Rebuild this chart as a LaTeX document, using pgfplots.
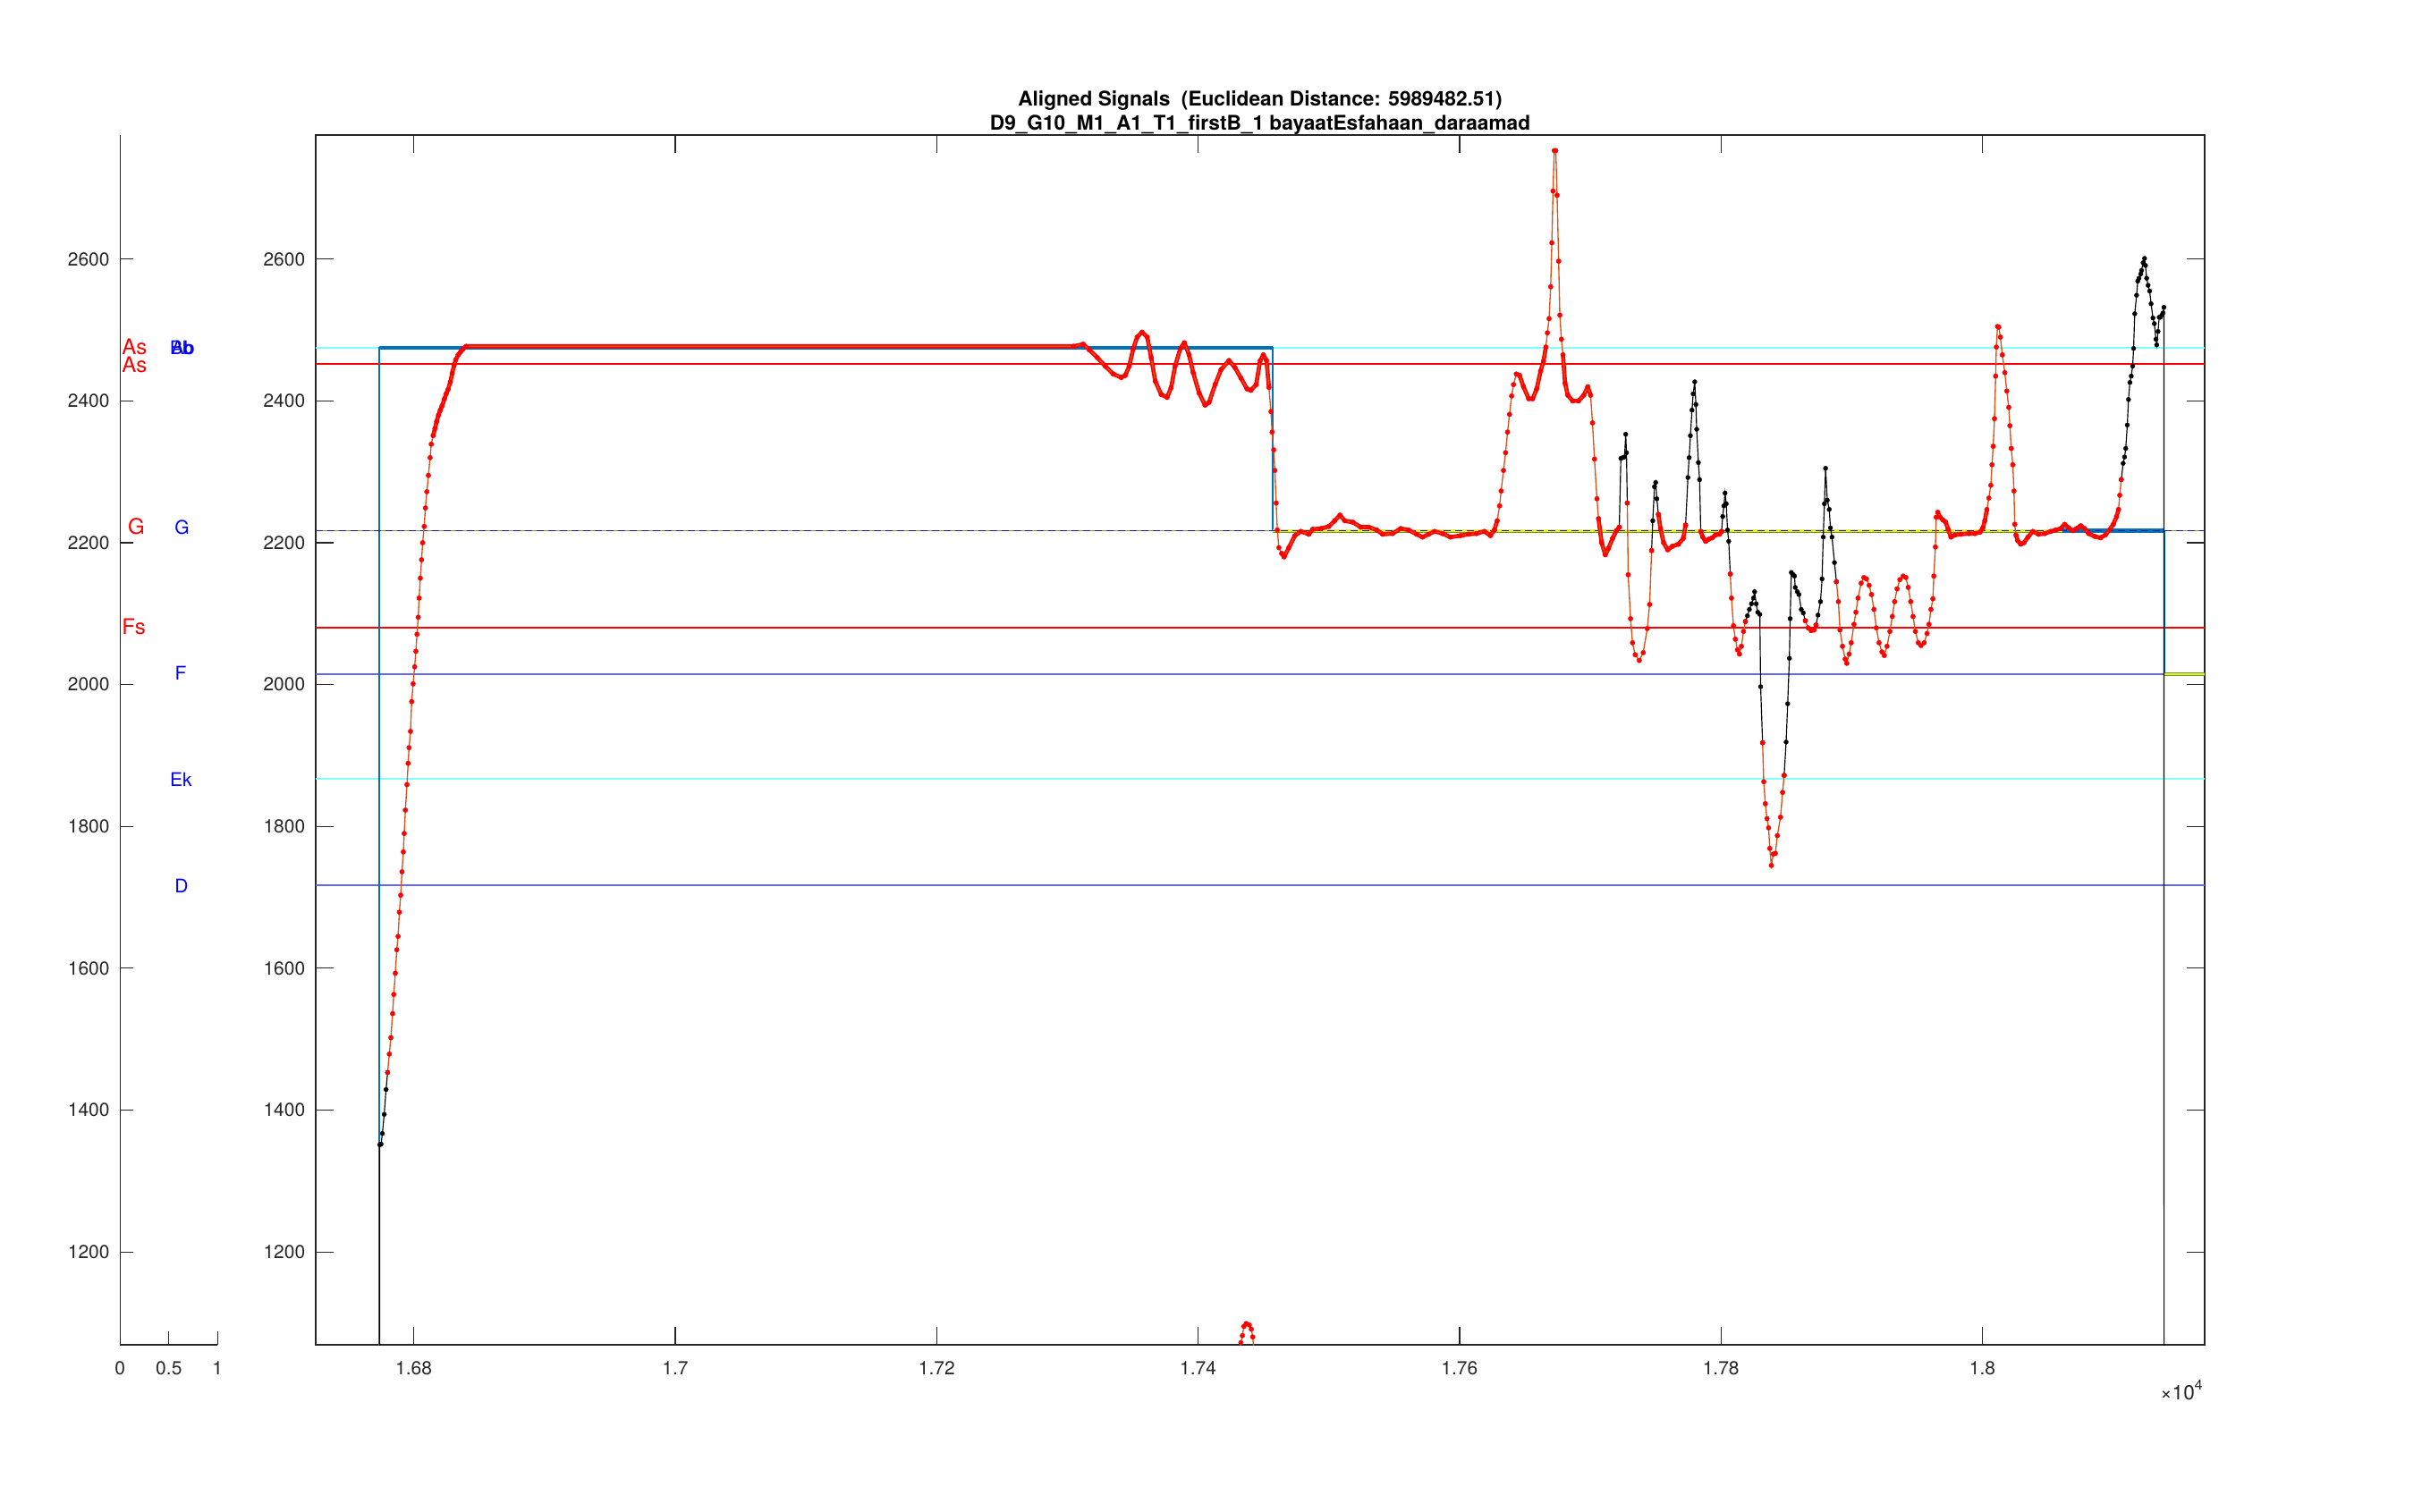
\documentclass[border=0pt]{standalone}
\usepackage{fontspec}
\setmainfont{TeX Gyre Heros}
\usepackage{pgfplots}
\usepackage{pgfplotstable}
\pgfplotsset{compat=1.18}

\definecolor{mblue}{rgb}{0,0.447,0.741}
\definecolor{morange}{rgb}{0.85,0.325,0.098}
\definecolor{mgreen}{rgb}{0.40,0.60,0.15}
\definecolor{myellow}{rgb}{0.92,0.92,0.25}
\definecolor{lcyan}{rgb}{0.5,1,1}
\definecolor{lblue}{rgb}{0.4,0.4,0.96}
\definecolor{olivetwo}{rgb}{0.55,0.55,0.25}
\definecolor{navytwo}{rgb}{0.1,0.1,0.6}
\definecolor{axgray}{rgb}{0.15,0.15,0.15}

% red pitch points: x, y, b (b = y where the dots merge into a band)
\pgfplotstableread{
x y b
16780 1453 nan
16781.3 1479 nan
16782.5 1502 nan
16783.8 1536 nan
16784.7 1563 nan
16785.9 1593 nan
16787 1626 nan
16788 1645 nan
16789 1679 nan
16790 1703 nan
16791 1736 nan
16792 1764 nan
16792.7 1790 nan
16793.6 1823 nan
16794.8 1859 nan
16795.7 1889 nan
16796.4 1911 nan
16797.5 1934 nan
16798.4 1976 nan
16799.5 2001 nan
16800.7 2025 nan
16801.6 2047 nan
16802.5 2071 nan
16803.4 2095 nan
16804.1 2122 nan
16805 2150 nan
16806 2176 nan
16806.8 2200 nan
16808 2223 nan
16808.9 2249 nan
16810 2272 nan
16811.2 2295 nan
16812.5 2320 nan
16813.4 2339 nan
16814.8 2351 2351
16816.2 2361 2361
16817.5 2371 2371
16818.9 2380 2380
16820.3 2387 2387
16821.6 2393 2393
16823.5 2403 2403
16824.8 2410 2410
16826.2 2416 2416
16828 2427 2427
16829.4 2439 2439
16830.8 2450 2450
16832.1 2458 2458
16834 2465 2465
16835.8 2469 2469
16837.6 2473 2473
16840 2477 2477
17304.6 2477 2477
17312.2 2480 2480
17316.8 2472 2472
17322.9 2461 2461
17329 2449 2449
17335.1 2438 2438
17341.2 2433 2433
17344.3 2436 2436
17347.3 2449 2449
17350.4 2474 2474
17353.4 2490 2490
17357.1 2497 2497
17361.1 2490 2490
17364.1 2461 2461
17367.2 2428 2428
17371.8 2409 2409
17376.3 2405 2405
17379.4 2419 2419
17382.4 2449 2449
17386.4 2474 2474
17389.5 2482 2482
17393.1 2465 2465
17396.2 2440 2440
17400.8 2411 2411
17405.3 2394 2394
17408.4 2398 2398
17413 2423 2423
17417.5 2444 2444
17423.6 2457 2457
17428.2 2447 2447
17432.8 2432 2432
17437.4 2417 2417
17440.4 2415 2415
17444.4 2423 2423
17447.5 2457 2457
17449.9 2465 2465
17452.3 2457 2457
17454.2 2419 2419
17455.7 2385 nan
17456.6 2356 nan
17457.8 2331 nan
17458.7 2302 nan
17459.7 2256 nan
17460.6 2218 nan
17461.8 2193 nan
17463.9 2185 2185
17465.8 2180 2180
17469.4 2193 2193
17474 2210 2210
17478.6 2216 2216
17484.7 2212 2212
17487.7 2219 2219
17493.9 2220 2220
17500 2223 2223
17504.5 2231 2231
17508.5 2239 2239
17512.2 2231 2231
17518.3 2229 2229
17524.4 2222 2222
17530.5 2222 2222
17536.6 2218 2218
17541.2 2212 2212
17548.8 2213 2213
17554.9 2220 2220
17561 2218 2218
17567.1 2212 2212
17571.7 2208 2208
17576.3 2212 2212
17580.8 2216 2216
17587 2213 2213
17593 2208 2208
17600.7 2210 2210
17606.8 2212 2212
17612.9 2213 2213
17619 2216 2216
17623.6 2210 2210
17626.6 2218 2218
17628.8 2231 2231
17630.6 2252 nan
17631.8 2273 nan
17633.6 2302 nan
17635.2 2327 nan
17636.7 2356 nan
17638.2 2381 nan
17639.8 2407 nan
17641.3 2423 nan
17643.4 2438 2438
17645.9 2436 2436
17648.9 2420 2420
17652.9 2403 2403
17655.9 2403 2403
17659 2417 2417
17662 2442 2442
17664.2 2456 2456
17666 2476 2476
17667.2 2496 nan
17668.5 2516 nan
17669.7 2561 nan
17670.6 2623 nan
17671.5 2696 nan
17672.4 2753 nan
17673.6 2753 nan
17674.6 2690 nan
17675.8 2597 nan
17676.7 2521 nan
17677.9 2487 nan
17679.1 2465 2465
17680.7 2425 2425
17682.8 2408 2408
17686.5 2400 2400
17691 2400 2400
17695 2408 2408
17698.1 2420 2420
17700.2 2408 2408
17701.7 2369 nan
17703.2 2318 nan
17705.1 2262 nan
17706.3 2234 2234
17708.7 2200 2200
17711.5 2183 2183
17713.9 2192 2192
17717 2206 2206
17720 2217 2217
17722.2 2222 2222
nan nan nan
17728.3 2256 nan
17729.0 2155 nan
17730.8 2093 nan
17732.3 2059 nan
17734.4 2042 nan
17737.5 2034 nan
17740.5 2045 nan
17743.6 2079 nan
17745.4 2113 nan
17746.9 2189 nan
nan nan nan
17752.1 2240 2240
17753.7 2220 2220
17756.1 2200 2200
17759.2 2190 2190
17762.8 2195 2195
17767.4 2198 2198
17771.1 2206 2206
17772.9 2225 2225
nan nan nan
17784.5 2216 2216
17786 2208 2208
17788.2 2202 2202
17790.6 2205 2205
17793.3 2207 2207
17795.8 2211 2211
17798.8 2212 2212
17800.4 2216 2216
nan nan nan
17807.1 2156 nan
17808 2122 nan
17809.5 2083 nan
17811 2064 nan
17812.6 2049 nan
17814.1 2043 nan
17815.6 2054 nan
17817.2 2075 nan
17818.7 2089 nan
nan nan nan
17831.8 1918 nan
17832.7 1863 nan
17833.9 1832 nan
17835.2 1811 nan
17836.4 1798 nan
17837.3 1769 nan
17838.5 1745 nan
17840 1761 nan
17841.6 1762 nan
17843.1 1787 nan
17845.5 1813 nan
17847.1 1848 nan
17848.3 1872 nan
nan nan nan
17864.5 2090 nan
17866.6 2080 nan
17869 2076 nan
17871.2 2077 nan
17872.7 2084 nan
nan nan nan
17888.3 2145 nan
17889.8 2117 nan
17891 2077 nan
17892.9 2054 nan
17895 2036 nan
17896.2 2030 nan
17898 2043 nan
17899.6 2059 nan
17901.7 2085 nan
17903.2 2102 nan
17904.8 2122 nan
17907.2 2143 nan
17909.3 2151 nan
17911.2 2149 nan
17913.3 2140 nan
17915.1 2127 nan
17917 2106 nan
17918.8 2080 nan
17920.9 2059 nan
17923.1 2046 nan
17924.9 2041 nan
17927 2054 nan
17929.2 2075 nan
17931 2096 nan
17932.8 2117 nan
17934.7 2135 nan
17936.8 2148 nan
17939.3 2153 nan
17941.4 2151 nan
17943.2 2137 nan
17945.1 2117 nan
17946.9 2096 nan
17948.7 2075 nan
17950.9 2059 nan
17953 2055 nan
17955.4 2059 nan
17957.6 2072 nan
17959.1 2085 nan
17960.6 2106 nan
17962.1 2121 nan
17962.8 2153 nan
17964 2194 nan
17964.6 2236 nan
17965.8 2243 2243
17967.6 2236 2236
17969.8 2232 2232
17971.9 2229 2229
17973.7 2219 2219
17975.9 2208 2208
17978.9 2211 2211
17983.5 2212 2212
17989.6 2213 2213
17994.2 2213 2213
17998.2 2215 2215
18000.3 2221 2221
18001.8 2231 2231
18003.4 2247 2247
18004.9 2263 nan
18006.4 2281 nan
18007.3 2310 nan
18008.2 2336 nan
18009.2 2375 nan
18010.1 2435 nan
18010.6 2476 nan
18011.5 2505 nan
18012.5 2504 nan
18013.7 2490 nan
18015.2 2465 nan
18017.1 2440 nan
18018.6 2414 nan
18020.1 2391 nan
18021 2365 nan
18022 2333 nan
18023.2 2310 nan
18024.1 2273 nan
18024.7 2226 nan
18025.6 2211 2211
18026.9 2203 2203
18029.3 2198 2198
18031.7 2200 2200
18034.8 2208 2208
18038.5 2216 2216
18043 2212 2212
18047.6 2213 2213
18052.2 2216 2216
18056.2 2218 2218
18059.8 2220 2220
18062.9 2226 2226
18065.9 2221 2221
18069 2217 2217
18072 2220 2220
18075.1 2224 2224
18078.1 2220 2220
18081.2 2213 2213
18085.8 2209 2209
18090.3 2207 2207
18094 2211 2211
18097.1 2218 2218
18100.1 2226 2226
18102.6 2237 2237
18104.1 2247 2247
18105 2267 nan
18106.2 2289 nan
}\redtab

% black pitch segments
\pgfplotstableread{
x y
16774 0
16774 1351
16775 1352
16776 1367
16777.4 1394
16778.8 1429
16780 1453
nan nan
17722.2 2222
17723.4 2319
17724.7 2320
17726.2 2321
17727.1 2353
17727.7 2327
17728.3 2256
nan nan
17746.9 2189
17747.8 2231
17749.1 2279
17750 2285
17750.9 2262
17752.1 2240
nan nan
17772.9 2225
17774.7 2292
17775.6 2320
17776.6 2351
17777.8 2387
17778.7 2410
17779.9 2427
17780.8 2395
17781.4 2360
17782.7 2313
17783.6 2289
17784.5 2216
nan nan
17800.4 2216
17801.3 2237
17802.2 2252
17803.1 2270
17804 2255
17805 2218
17805.9 2202
17807.1 2156
nan nan
17818.7 2089
17820.2 2097
17821.7 2106
17823.3 2114
17824.8 2122
17825.7 2131
17826.9 2114
17828.1 2102
17829.7 2099
17830.3 1997
17831.8 1918
nan nan
17848.3 1872
17849.8 1919
17851 1973
17852.3 2037
17852.9 2093
17853.8 2158
17855.3 2155
17856.2 2153
17856.8 2137
17858.4 2131
17859.6 2127
17861.4 2106
17862.9 2101
17864.5 2090
nan nan
17872.7 2084
17874.2 2098
17876.1 2117
17877.3 2149
17878.2 2208
17879.1 2255
17880 2305
17881.3 2260
17882.8 2247
17883.7 2221
17884.9 2208
17886.8 2172
17888.3 2145
nan nan
18106.2 2289
18107.6 2312
18108.7 2321
18109.6 2333
18110.8 2366
18111.7 2402
18112.8 2426
18113.8 2435
18114.9 2449
18115.6 2474
18116.5 2523
18117.9 2549
18118.8 2569
18119.7 2573
18121.1 2579
18121.7 2584
18122.9 2595
18124 2601
18124.7 2591
18125.6 2573
18126.7 2563
18127.9 2555
18129 2537
18130.4 2517
18131.5 2509
18132.7 2487
18133.3 2479
18134.3 2498
18135.2 2518
18136.1 2518
18137.2 2521
18138.1 2524
18138.8 2532
18139 0
}\blacktab

\begin{document}
\begin{tikzpicture}
\useasboundingbox (0,0) rectangle (812.4pt,507pt);

% ---------- small note-label axis ----------
\begin{axis}[
  at={(40.3pt,55.8pt)}, anchor=south west,
  scale only axis, width=32.7pt, height=405.9pt,
  xmin=0, xmax=1, ymin=1069, ymax=2775,
  axis x line*=bottom, axis y line*=left,
  xtick={0,0.5,1}, xticklabels={0,0.5,1},
  ytick={1200,1400,1600,1800,2000,2200,2400,2600},
  tick align=inside, major tick length=4.4pt,
  axis line style={axgray, line width=0.45pt},
  every tick/.style={axgray, line width=0.35pt},
  tick label style={font=\fontsize{6.3}{7}\selectfont, text=axgray},
  xticklabel style={yshift=-2pt},
  /pgf/number format/assume math mode=true,
  /pgf/number format/1000 sep={},
  clip=false,
]
\node[anchor=west, inner sep=0pt, text=red, font=\fontsize{7.2}{8}\selectfont] at (axis cs:0.012,2476) {As};
\node[anchor=west, inner sep=0pt, text=red, font=\fontsize{7.2}{8}\selectfont] at (axis cs:0.012,2451) {As};
\node[anchor=west, inner sep=0pt, text=red, font=\fontsize{7.2}{8}\selectfont] at (axis cs:0.075,2223) {G};
\node[anchor=west, inner sep=0pt, text=red, font=\fontsize{7.2}{8}\selectfont] at (axis cs:0.012,2081) {Fs};
\node[inner sep=0pt, text=blue, font=\fontsize{6.3}{7}\selectfont] at (axis cs:0.63,2475) {Bb};
\node[inner sep=0pt, text=blue, font=\fontsize{6.3}{7}\selectfont] at (axis cs:0.645,2475) {Ab};
\node[inner sep=0pt, text=blue, font=\fontsize{6.3}{7}\selectfont] at (axis cs:0.635,2222) {G};
\node[inner sep=0pt, text=blue, font=\fontsize{6.3}{7}\selectfont] at (axis cs:0.62,2016) {F};
\node[inner sep=0pt, text=blue, font=\fontsize{6.3}{7}\selectfont] at (axis cs:0.625,1866) {Ek};
\node[inner sep=0pt, text=blue, font=\fontsize{6.3}{7}\selectfont] at (axis cs:0.63,1716) {D};
\end{axis}

% ---------- main axis ----------
\begin{axis}[
  at={(105.9pt,55.8pt)}, anchor=south west,
  scale only axis, width=633.6pt, height=405.9pt,
  xmin=16725, xmax=18170, ymin=1069, ymax=2775,
  xtick={16800,17000,17200,17400,17600,17800,18000},
  xticklabels={1.68,1.7,1.72,1.74,1.76,1.78,1.8},
  scaled x ticks=false,
  ytick={1200,1400,1600,1800,2000,2200,2400,2600},
  tick align=inside, major tick length=6pt,
  axis line style={axgray, line width=0.45pt},
  every tick/.style={axgray, line width=0.35pt},
  tick label style={font=\fontsize{6.3}{7}\selectfont, text=axgray},
  xticklabel style={yshift=-2pt},
  /pgf/number format/assume math mode=true,
  /pgf/number format/1000 sep={},
  unbounded coords=jump,
  clip=true,
]
% note reference lines
\addplot[lcyan, line width=0.6pt] coordinates {(16725,2475) (18170,2475)};
\addplot[red, line width=0.5pt] coordinates {(16725,2452) (18170,2452)};
\addplot[olivetwo, line width=0.5pt] coordinates {(16725,2217) (18170,2217)};
\addplot[red, line width=0.5pt] coordinates {(16725,2080) (18170,2080)};
\addplot[lblue, line width=0.55pt] coordinates {(16725,2015) (18170,2015)};
\addplot[lcyan, line width=0.6pt] coordinates {(16725,1867) (18170,1867)};
\addplot[lblue, line width=0.55pt] coordinates {(16725,1717) (18170,1717)};
% template
\addplot[mblue, line width=0.5pt] coordinates {(16773.5,0) (16773.5,2475) (17457,2475) (17457,2217) (18139,2217) (18139,2015) (18170,2015)};
\addplot[mblue, line width=1.4pt] coordinates {(16773.5,2475) (17457,2475)};
\addplot[mblue, line width=1.4pt] coordinates {(18061,2217) (18139,2217)};
\addplot[mgreen, line width=1.2pt] coordinates {(17457,2217) (18061,2217)};
\addplot[myellow, line width=0.65pt] coordinates {(17457,2217) (18061,2217)};
\addplot[mgreen, line width=1.2pt] coordinates {(18139,2015) (18170,2015)};
\addplot[myellow, line width=0.65pt] coordinates {(18139,2015) (18170,2015)};
\addplot[navytwo, line width=0.45pt, dash pattern=on 2.4pt off 1.5pt] coordinates {(16725,2217) (18170,2217)};
% black pitch
\addplot[black, line width=0.35pt, mark=*, mark size=0.75pt, mark options={fill=black, draw=black, line width=0.1pt}] table[x=x, y=y] {\blacktab};
% red pitch: band where dots merge, then dots with thin line
\addplot[red, line width=1.4pt, line join=round, line cap=round] table[x=x, y=b] {\redtab};
\addplot[morange, line width=0.4pt, mark=*, mark size=0.8pt, mark options={fill=red, draw=red, line width=0.1pt}] table[x=x, y=y] {\redtab};
\addplot[morange, line width=0.4pt, mark=*, mark size=0.8pt, mark options={fill=red, draw=red, line width=0.1pt}] coordinates {(17431.5,1040) (17432.7,1072) (17433.9,1082) (17435,1095) (17436.8,1099) (17439.1,1097) (17440.7,1091) (17441.8,1080) (17443,1055)};
\end{axis}

% title and exponent
\node[anchor=base, font=\bfseries\fontsize{6.8}{8}\selectfont, inner sep=0pt] at (422.7pt,471.3pt) {Aligned Signals\ \ (Euclidean Distance: 5989482.51)};
\node[anchor=base, font=\bfseries\fontsize{6.8}{8}\selectfont, inner sep=0pt] at (422.7pt,463.2pt) {D9\_G10\_M1\_A1\_T1\_firstB\_1 bayaatEsfahaan\_daraamad};
\node[anchor=base east, font=\fontsize{6.8}{8}\selectfont, text=axgray, inner sep=0pt] at (739.5pt,37.5pt) {×10\textsuperscript{4}};
\end{tikzpicture}
\end{document}
